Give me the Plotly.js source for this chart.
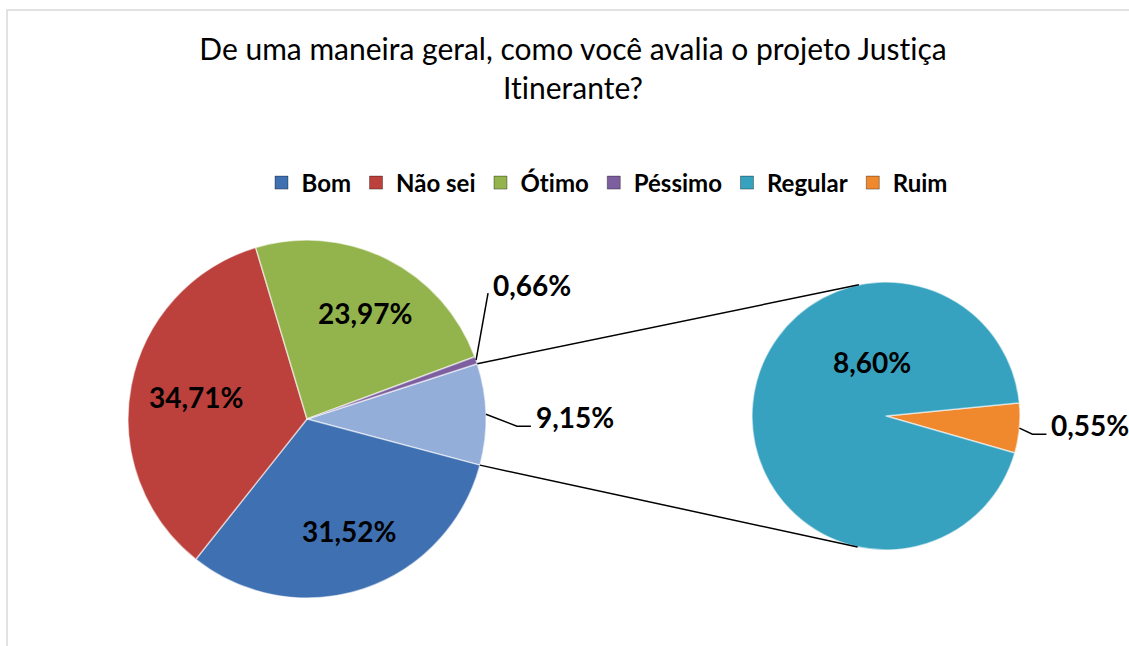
<!DOCTYPE html>
<html><head><meta charset="utf-8">
<script src="https://cdn.plot.ly/plotly-3.0.1.min.js"></script>
<style>html,body{margin:0;padding:0;background:#fff;}#chart{width:1129px;height:646px;}
svg text{font-variant-ligatures:none;font-feature-settings:"liga" 0;}</style>
</head><body><div id="chart"></div>
<script>
// ---- data ----
const categories = ['Bom', 'Não sei', 'Ótimo', 'Péssimo', 'Regular', 'Ruim'];
const percentages = [31.52, 34.71, 23.97, 0.66, 8.60, 0.55];
const mainCategories = ['Bom', 'Não sei', 'Ótimo', 'Péssimo'];
const secondCategories = ['Ruim', 'Regular'];
const otherLabel = 'Outros';
const titleText = 'De uma maneira geral, como você avalia o projeto Justiça<br>Itinerante?';

// ---- style ----
const colors = {'Bom': '#3F70B2', 'Não sei': '#BC403C', 'Ótimo': '#93B44C', 'Péssimo': '#7D5FA0',
                'Regular': '#36A2C0', 'Ruim': '#F0892E', 'Outros': '#94AEDA'};
const FONT = 'Lato, "Open Sans", sans-serif';
const W = 1129, H = 646;
const main = {cx: 307, cy: 419, r: 179, rot: 72};
const sec = {cx: 886, cy: 416, r: 134, rot: 84.4};

const val = c => percentages[categories.indexOf(c)];
const fmt = v => v.toFixed(2).replace('.', ',') + '%';
const px = x => x / W, py = y => 1 - y / H;

const otherValue = secondCategories.reduce((s, c) => s + val(c), 0);
const mainLabels = [otherLabel].concat(mainCategories);
const mainValues = [otherValue].concat(mainCategories.map(val));
const secValues = secondCategories.map(val);

function domainOf(p) {
  return {x: [px(p.cx - p.r), px(p.cx + p.r)], y: [py(p.cy + p.r), py(p.cy - p.r)]};
}
function rim(p, ang, f) { // ang: degrees clockwise from 12 o'clock
  const a = ang * Math.PI / 180; f = f || 1;
  return [p.cx + p.r * f * Math.sin(a), p.cy - p.r * f * Math.cos(a)];
}
function sliceAngles(p, values) {
  const tot = values.reduce((a, b) => a + b, 0);
  let cur = p.rot; const out = [];
  values.forEach(v => { const span = 360 * v / tot; out.push({start: cur, end: cur + span, mid: cur + span / 2}); cur += span; });
  return out;
}
const mainAng = sliceAngles(main, mainValues);
const secAng = sliceAngles(sec, secValues);

const sliceLine = {color: 'rgba(255,255,255,0.55)', width: 1.5};
const traces = [
  {type: 'pie', labels: mainLabels, values: mainValues, sort: false, direction: 'clockwise',
   rotation: main.rot, domain: domainOf(main), textinfo: 'none', hoverinfo: 'label+value',
   marker: {colors: mainLabels.map(c => colors[c]), line: sliceLine}, showlegend: false},
  {type: 'pie', labels: secondCategories, values: secValues, sort: false, direction: 'clockwise',
   rotation: sec.rot, domain: domainOf(sec), textinfo: 'none', hoverinfo: 'label+value',
   marker: {colors: secondCategories.map(c => colors[c]), line: sliceLine}, showlegend: false}
];
// legend entries
categories.forEach(c => traces.push({type: 'scatter', mode: 'markers', x: [null], y: [null], name: c,
  marker: {symbol: 'square', size: 13, color: colors[c], line: {color: 'rgba(0,0,0,0.35)', width: 1}},
  showlegend: true, hoverinfo: 'skip'}));

// ---- annotations (labels) ----
const ann = [];
const lblFont = {family: FONT, size: 28, color: '#000', weight: 'bold'};
function inside(text, x, y) {
  ann.push({xref: 'paper', yref: 'paper', x: px(x), y: py(y), text: '<b>' + text + '</b>', showarrow: false,
            xanchor: 'center', yanchor: 'middle', font: lblFont});
}
const shapes = [];
function seg(pts) {
  let d = 'M ' + pts.map(p => px(p[0]) + ',' + py(p[1])).join(' L ');
  shapes.push({type: 'path', xref: 'paper', yref: 'paper', path: d, line: {color: '#000', width: 1.5}});
}
function outside(text, rp, dx, dy, elbow) {
  const lx = rp[0] + dx, ly = rp[1] + dy;
  ann.push({xref: 'paper', yref: 'paper', x: px(lx), y: py(ly), text: '<b>' + text + '</b>', showarrow: false,
            xanchor: 'left', yanchor: 'middle', font: lblFont});
  if (elbow) seg([rp, [lx - 17, ly + 9], [lx - 3, ly + 9]]);
  else seg([rp, [lx - 3, ly + 8]]);
}
// main pie
mainLabels.forEach((c, i) => {
  const a = mainAng[i];
  const v = mainValues[i];
  if (c === otherLabel) outside(fmt(v), rim(main, a.mid), 48, 3, true);
  else if (c === 'Péssimo') outside(fmt(v), rim(main, a.mid), 15, -75, false);
  else { const p = rim(main, a.mid, 0.66); inside(fmt(v), p[0] + 5, p[1]); }
});
// secondary pie
secondCategories.forEach((c, i) => {
  const a = secAng[i], v = secValues[i];
  if (c === 'Ruim') outside(fmt(v), rim(sec, a.mid), 30, -3, true);
  else inside(fmt(v), sec.cx - 14, sec.cy - 54);
});

// ---- connector lines (tangents from Other slice edges to second pie) ----
function tangent(P, C, r, top) {
  const vx = P[0] - C[0], vy = P[1] - C[1];
  const d = Math.hypot(vx, vy), th = Math.atan2(vy, vx), ph = Math.acos(r / d);
  const t1 = [C[0] + r * Math.cos(th + ph), C[1] + r * Math.sin(th + ph)];
  const t2 = [C[0] + r * Math.cos(th - ph), C[1] + r * Math.sin(th - ph)];
  return top ? (t1[1] < t2[1] ? t1 : t2) : (t1[1] > t2[1] ? t1 : t2);
}
const oA = mainAng[0];
const pTop = rim(main, oA.start), pBot = rim(main, oA.end);
seg([pTop, tangent(pTop, [sec.cx, sec.cy], sec.r, true)]);
seg([pBot, tangent(pBot, [sec.cx, sec.cy], sec.r, false)]);

// chart border
shapes.push({type: 'rect', xref: 'paper', yref: 'paper', x0: px(7), x1: px(1140), y0: py(660), y1: py(10),
             line: {color: '#D9D9D9', width: 1.5}, layer: 'below'});

const layout = {
  width: W, height: H, margin: {l: 0, r: 0, t: 0, b: 0}, paper_bgcolor: '#fff', plot_bgcolor: 'rgba(0,0,0,0)',
  title: {text: titleText, x: px(573), xanchor: 'center', y: py(60), yanchor: 'top', yref: 'paper',
          font: {family: FONT, size: 30, color: '#000'}},
  showlegend: true,
  legend: {orientation: 'h', x: px(607), xanchor: 'center', y: py(183), yanchor: 'middle',
           font: {family: FONT, size: 24, color: '#000', weight: 'bold'}, itemwidth: 30, tracegroupgap: 0,
           bgcolor: 'rgba(0,0,0,0)'},
  xaxis: {visible: false, domain: [0, 0.01]}, yaxis: {visible: false, domain: [0, 0.01]},
  annotations: ann, shapes: shapes
};
Plotly.newPlot('chart', traces, layout, {displayModeBar: false, staticPlot: true});
</script></body></html>
